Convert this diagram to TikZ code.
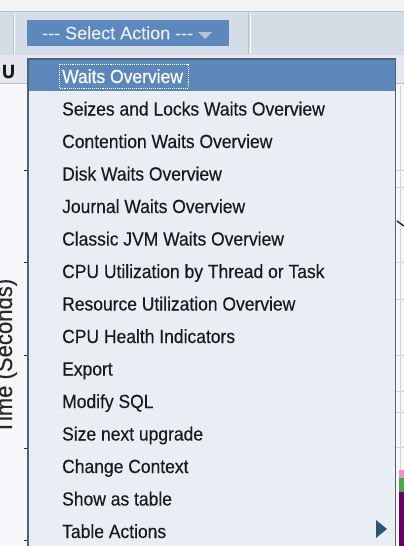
\documentclass[tikz,border=0pt]{standalone}
\usepackage{fontspec}
\setmainfont{Liberation Sans}[FakeStretch=0.92, FakeBold=0.35]
\newfontfamily\btnfont{Liberation Sans}[Ligatures=TeXOff, FakeBold=0.3]
\definecolor{pagebg}{HTML}{F7F6F9}
\definecolor{topstrip}{HTML}{F3F4F7}
\definecolor{toolbar}{HTML}{D4DCE6}
\definecolor{toolline}{HTML}{B8C2CE}
\definecolor{hdr}{HTML}{E4E8EE}
\definecolor{hdrline}{HTML}{B7C1CD}
\definecolor{menubg}{HTML}{E9EEF5}
\definecolor{menuborder}{HTML}{4F6377}
\definecolor{hl}{HTML}{5C87BB}
\definecolor{btn}{HTML}{5D88BD}
\definecolor{btntext}{HTML}{E9EEF5}
\definecolor{btntri}{HTML}{B9C3D0}
\definecolor{itemtext}{HTML}{1A1A1A}
\definecolor{gridc}{HTML}{D3D7DC}
\definecolor{subarrow}{HTML}{2C5576}
\definecolor{axistext}{HTML}{2A2A2A}
\begin{document}
\begin{tikzpicture}[x=1pt,y=-1pt,
  item/.style={anchor=base west, inner sep=0pt, text=itemtext,
    font=\fontsize{19}{22}\selectfont},
  tick/.style={draw=axistext, line width=0.8pt}]
\clip (0,0) rectangle (404,546);
% page background
\fill[pagebg] (0,0) rectangle (404,546);
% top strip and toolbar
\fill[topstrip] (0,0) rectangle (404,11.5);
\fill[toolbar] (0,11.5) rectangle (404,55);
\draw[toolline] (0,11.5) -- (404,11.5);
\draw[toolline, line width=1pt] (13,13) -- (13,55);
\draw[white, line width=0.8pt] (14.5,13) -- (14.5,55);
\draw[toolline, line width=1pt] (248.5,13) -- (248.5,54);
\draw[white, line width=0.8pt] (250,13) -- (250,54);
% table header row
\fill[hdr] (0,55) rectangle (404,83);
\draw[hdrline] (0,83) -- (404,83);
\node[anchor=base west, inner sep=0pt, text=itemtext,
  font=\fontsize{19}{22}\selectfont\bfseries] (colhead) at (2,78) {U};
% chart area to the right of the menu
\foreach \gy in {170,187,262,299,355,391,412,447}
  \draw[gridc] (396,\gy) -- (404,\gy);
\draw[gridc] (400,85) -- (400,546);
\draw[violet!70!black, line width=1.4pt] (397,221) -- (404,226);
\fill[magenta!45!white] (399,470) rectangle (404,478);
\fill[green!50!black!70!white] (399,478) rectangle (404,492);
\fill[violet!80!black] (399,492) rectangle (404,546);
% chart axis label (partly outside the plot) and ticks left of the menu
\node[rotate=90, anchor=base west, inner sep=0pt, text=axistext,
  font=\fontsize{24}{27}\selectfont] (ylabel) at (12,434) {Time (Seconds)};
\foreach \ty in {170,262,355,448,540}
  \draw[tick] (24,\ty) -- (28,\ty);
% select button
\fill[btn] (27,20) rectangle (229,46);
\node[anchor=base west, inner sep=0pt, text=btntext,
  font=\btnfont\fontsize{18}{21}\selectfont] (select) at (42,39.3)
  {--- Select Action ---};
\fill[btntri] (198,32) -- (212,32) -- (205,39) -- cycle;
% drop-down menu
\filldraw[fill=menubg, draw=menuborder, line width=1.5pt] (28,59) rectangle (395.5,560);
\fill[hl] (28.75,59.75) rectangle (394.75,91);
\node[item, text=white] (m1) at (62,83) {Waits Overview};
\draw[white, densely dotted, line width=0.9pt] (59,64) rectangle (188,88);
\foreach \t [count=\i from 2] in {Seizes and Locks Waits Overview,
    Contention Waits Overview, Disk Waits Overview, Journal Waits Overview,
    Classic JVM Waits Overview, CPU Utilization by Thread or Task,
    Resource Utilization Overview, CPU Health Indicators, Export,
    Modify SQL, Size next upgrade, Change Context, Show as table,
    Table Actions}
  \node[item] (m\i) at (62,{83+32.5*(\i-1)}) {\t};
% submenu arrow
\fill[subarrow] (376,520) -- (387,529) -- (376,538) -- cycle;
\end{tikzpicture}
\end{document}
